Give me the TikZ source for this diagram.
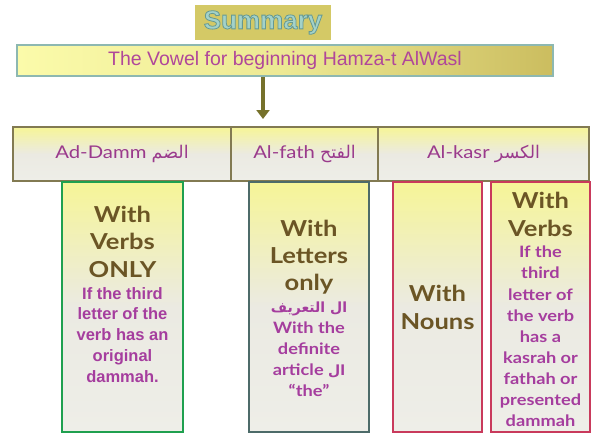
\documentclass[tikz,border=0pt]{standalone}
\usepackage{fontspec}
\setmainfont{Lato}
\newfontfamily\gillfont[FakeStretch=1.16]{Lato}
\newfontfamily\arialfont{Liberation Sans}
\newfontfamily\arabicfont[Script=Arabic]{DejaVu Sans}
\TeXXeTstate=1
\usetikzlibrary{arrows.meta,shadows}
\definecolor{goldbox}{HTML}{D4C966}
\definecolor{sumtext}{HTML}{A3D2C9}
\definecolor{titleL}{HTML}{FBFBAA}
\definecolor{titleR}{HTML}{CBBD5F}
\definecolor{titleborder}{HTML}{8DB8B1}
\definecolor{titletext}{HTML}{B0479A}
\definecolor{olive}{HTML}{76712B}
\definecolor{hdrborder}{HTML}{827A52}
\definecolor{hdrtext}{HTML}{9A3A8C}
\definecolor{yellowtop}{HTML}{F6F597}
\definecolor{greymid}{HTML}{EBEAE2}
\definecolor{greybot}{HTML}{EEEEE8}
\definecolor{headbrown}{HTML}{6B5525}
\definecolor{bodymag}{HTML}{A53D9E}
\definecolor{bgreen}{HTML}{1FA04F}
\definecolor{bteal}{HTML}{4D6B69}
\definecolor{bred}{HTML}{C93A5C}
\newcommand{\outlinetext}[1]{\special{pdf:literal direct 0.8 w 0.40 0.60 0.57 RG 2 Tr}#1\special{pdf:literal direct 0 Tr}}
\tikzset{
  fillgrad/.style={top color=yellowtop, bottom color=greybot, middle color=greymid},
  hdrcell/.style={draw=hdrborder, line width=2.5pt, fillgrad, minimum height=54pt,
    inner sep=0pt, outer sep=0pt, text=hdrtext, font=\fontsize{17.5}{21}\gillfont},
  colbox/.style={line width=2.5pt, fillgrad, minimum height=250pt, inner sep=0pt, outer sep=0pt},
  headtxt/.style={anchor=base, inner sep=0pt, text=headbrown, font=\fontsize{22}{26}\gillfont\bfseries},
  bodytxt/.style={anchor=base, inner sep=0pt, text=bodymag, font=\fontsize{15.7}{19}\gillfont\bfseries},
  arialtxt/.style={anchor=base, inner sep=0pt, text=bodymag, font=\fontsize{16.5}{19}\arialfont\bfseries},
  arabtxt/.style={font=\fontsize{17.5}{21}\arabicfont},
  arrowline/.style={draw=olive, line width=3.5pt, -{Triangle[width=13pt,length=9pt]}}
}
\begin{document}
\begin{tikzpicture}[x=1pt,y=-1pt]
\useasboundingbox[fill=white] (0,0) rectangle (601,444);

% Summary box
\node[fill=goldbox, draw=white, line width=3pt, minimum width=139pt, minimum height=38pt,
  inner sep=0pt, drop shadow={opacity=0.3, shadow xshift=1.2pt, shadow yshift=-1.5pt, fill=black!40},
  text=sumtext, font=\fontsize{26}{30}\arialfont\bfseries] (summary) at (263,22.5) {\outlinetext{Summary}};

% Title box
\node[left color=titleL, right color=titleR, middle color=titleL!70!titleR,
  draw=titleborder, line width=2.5pt, minimum width=536pt, minimum height=31pt, inner sep=0pt,
  text=titletext, font=\fontsize{19.5}{22}\arialfont] (title) at (285,60.5)
  {The Vowel for beginning Hamza-t AlWasl};

% Header cells
\node[hdrcell, minimum width=218pt] (h1) at (122,154) {Ad-Damm {\arabicfont\fontsize{17.5}{21}\selectfont\beginR الضم\endR}};
\node[hdrcell, minimum width=147pt] (h2) at (304.5,154) {Al-fath {\arabicfont\fontsize{17.5}{21}\selectfont\beginR الفتح\endR}};
\node[hdrcell, minimum width=211pt] (h3) at (483.5,154) {Al-kasr {\arabicfont\fontsize{17.5}{21}\selectfont\beginR الكسر\endR}};

% Arrow
\draw[arrowline, shorten >=8pt] (title.south -| summary.center) -- (h2.north -| summary.center);

% Column boxes
\node[colbox, draw=bgreen, minimum width=121pt] (c1) at (122.5,307) {};
\node[colbox, draw=bteal, minimum width=120pt] (c2) at (309,307) {};
\node[colbox, draw=bred, minimum width=89pt] (c3) at (437.5,307) {};
\node[colbox, draw=bred, minimum width=99pt] (c4) at (540.5,307) {};

% Box 1 texts
\foreach \t/\y [count=\i] in {With/222, Verbs/249, ONLY/277}
  \node[headtxt] (c1h\i) at (c1.center |- 0,\y) {\t};
\foreach \t/\y [count=\i] in {If the third/299, letter of the/319.5, verb has an/340.5, original/361, dammah./382}
  \node[arialtxt] (c1b\i) at (c1.center |- 0,\y) {\t};

% Box 2 texts
\foreach \t/\y [count=\i] in {With/236, Letters/263, only/290}
  \node[headtxt] (c2h\i) at (c2.center |- 0,\y) {\t};
\node[bodytxt] (c2b1) at (c2.center |- 0,312) {\arabicfont\fontsize{14}{17}\selectfont\beginR ال التعريف\endR};
\node[bodytxt] (c2b2) at (c2.center |- 0,333) {With the};
\node[bodytxt] (c2b3) at (c2.center |- 0,354) {definite};
\node[bodytxt] (c2b4) at (c2.center |- 0,375) {article {\arabicfont\fontsize{14}{17}\selectfont\beginR ال\endR}};
\node[bodytxt] (c2b5) at (c2.center |- 0,396) {“the”};

% Box 3 texts
\foreach \t/\y [count=\i] in {With/301, Nouns/329}
  \node[headtxt] (c3h\i) at (c3.center |- 0,\y) {\t};

% Box 4 texts
\foreach \t/\y [count=\i] in {With/208, Verbs/236}
  \node[headtxt] (c4h\i) at (c4.center |- 0,\y) {\t};
\foreach \t/\y [count=\i] in {If the/257, third/278, letter of/300, the verb/321, has a/342, kasrah or/363, fathah or/384, presented/405, dammah/426}
  \node[bodytxt] (c4b\i) at (c4.center |- 0,\y) {\t};
\end{tikzpicture}
\end{document}
